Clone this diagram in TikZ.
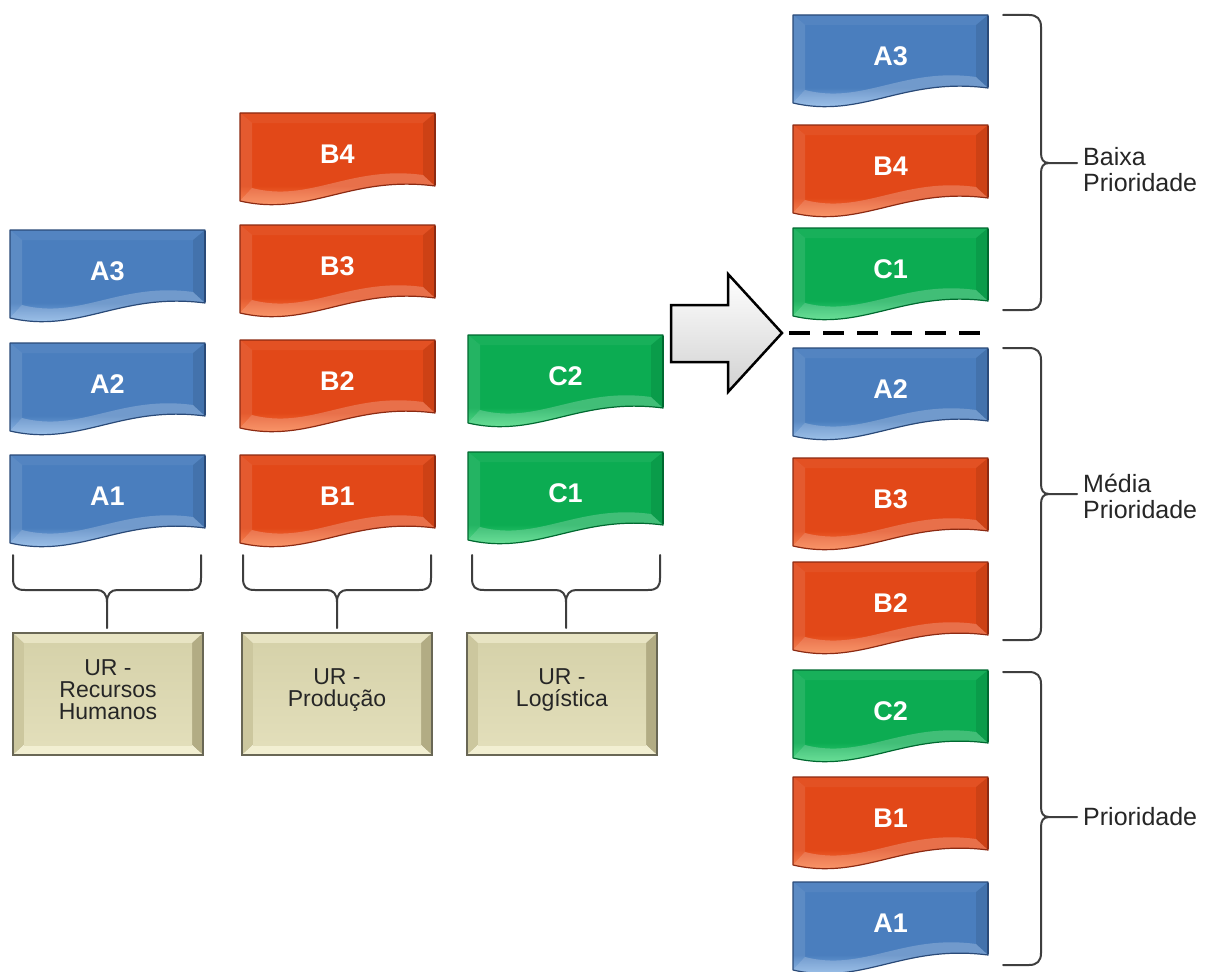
\documentclass[tikz,border=0pt]{standalone}
\usepackage{fontspec}
\setmainfont{Liberation Sans}
\usetikzlibrary{calc}

% block colours
\definecolor{bluebase}{RGB}{74,126,190}
\definecolor{bluelt}{RGB}{145,190,238}
\definecolor{bluedk}{RGB}{42,74,120}
\definecolor{redbase}{RGB}{226,72,24}
\definecolor{redlt}{RGB}{255,135,75}
\definecolor{reddk}{RGB}{140,42,18}
\definecolor{grnbase}{RGB}{12,172,82}
\definecolor{grnlt}{RGB}{80,228,135}
\definecolor{grndk}{RGB}{0,105,48}
% unit boxes
\definecolor{urface}{RGB}{214,210,170}
\definecolor{urface2}{RGB}{226,222,186}
\definecolor{urtop}{RGB}{232,228,195}
\definecolor{urleft}{RGB}{204,199,158}
\definecolor{urright}{RGB}{178,172,132}
\definecolor{urbot}{RGB}{242,239,210}
\definecolor{urline}{RGB}{105,103,85}
\definecolor{bracegray}{RGB}{62,62,62}

\pgfdeclareverticalshading{blueshade}{100bp}{color(0bp)=(bluelt); color(28bp)=(bluelt); color(40bp)=(bluebase); color(100bp)=(bluebase)}
\pgfdeclareverticalshading{redshade}{100bp}{color(0bp)=(redlt); color(28bp)=(redlt); color(40bp)=(redbase); color(100bp)=(redbase)}
\pgfdeclareverticalshading{grnshade}{100bp}{color(0bp)=(grnlt); color(28bp)=(grnlt); color(40bp)=(grnbase); color(100bp)=(grnbase)}

\tikzset{
  blocklabel/.style={text=white, font=\fontsize{27}{27}\selectfont\bfseries, inner sep=0pt},
  urlabel/.style={text=black!85, font=\fontsize{23}{22}\selectfont, align=center, inner sep=0pt},
  sidelabel/.style={text=black!85, font=\fontsize{25}{26}\selectfont, align=left, anchor=west, inner sep=0pt},
  bracepen/.style={draw=bracegray, line width=2pt, line join=round, line cap=round},
}

% wavy bevelled block: name, x, y (top left), shading, outline colour, label
\newcommand\waveblock[6]{%
\begin{scope}[shift={(#2,#3)}]
  \shade[shading=#4] (0,0) -- (195,0) -- (195,73) .. controls (110,62) and (70,104) .. (0,88) -- cycle;
  \fill[white,opacity=.10] (0,0) -- (12,10) -- (12,75) -- (0,88) -- cycle;
  \fill[black,opacity=.09] (195,0) -- (195,73) -- (183,62) -- (183,10) -- cycle;
  \fill[white,opacity=.05] (0,0) -- (195,0) -- (183,10) -- (12,10) -- cycle;
  \fill[white,opacity=.22] (195,73) .. controls (110,62) and (70,104) .. (0,88) -- (12,75) .. controls (70,90) and (110,52) .. (183,62) -- cycle;
  \draw[#5, line width=1.2pt, line join=round] (0,0) -- (195,0) -- (195,73) .. controls (110,62) and (70,104) .. (0,88) -- cycle;
  \draw[#5, line width=2.5pt] (195,1) -- (195,72);
  \node[blocklabel] (#1) at (97.5,41) {#6};
\end{scope}}

% bevelled unit box: name, x, y (top left), text
\newcommand\unitbox[4]{%
\begin{scope}[shift={(#2,#3)}]
  \fill[urtop] (0,0) -- (190,0) -- (179,10) -- (11,10) -- cycle;
  \fill[urleft] (0,0) -- (11,10) -- (11,112) -- (0,122) -- cycle;
  \fill[urright] (190,0) -- (190,122) -- (179,112) -- (179,10) -- cycle;
  \fill[urbot] (0,122) -- (11,112) -- (179,112) -- (190,122) -- cycle;
  \shade[top color=urface, bottom color=urface2] (11,10) rectangle (179,112);
  \draw[urline, line width=1.5pt] (0,0) rectangle (190,122);
  \node[urlabel] (#1) at (95,57) {#4};
\end{scope}}

% horizontal brace opening upwards: left x, right x, middle x
\newcommand\groupbrace[3]{%
  \draw[bracepen] (#1,555) -- (#1,578) .. controls (#1,587) and (#1+3,590) .. (#1+12,590)
    -- (#3-10,590) .. controls (#3-4,590) and (#3,594) .. (#3,602) -- (#3,628);
  \draw[bracepen] (#2,555) -- (#2,578) .. controls (#2,587) and (#2-3,590) .. (#2-12,590)
    -- (#3+10,590) .. controls (#3+4,590) and (#3,594) .. (#3,602);
}

% vertical brace opening leftwards: top y, bottom y, middle y
\newcommand\sidebrace[3]{%
  \draw[bracepen] (1003,#1) -- (1029,#1) .. controls (1037,#1) and (1041,#1+4) .. (1041,#1+12)
    -- (1041,#3-10) .. controls (1041,#3-4) and (1043,#3) .. (1049,#3) -- (1077,#3);
  \draw[bracepen] (1003,#2) -- (1029,#2) .. controls (1037,#2) and (1041,#2-4) .. (1041,#2-12)
    -- (1041,#3+10) .. controls (1041,#3+4) and (1043,#3) .. (1049,#3);
}

\begin{document}
\begin{tikzpicture}[x=1pt,y=-1pt]
  \useasboundingbox[fill=white] (0,0) rectangle (1214,971);

  % units and their demands
  \waveblock{lA3}{10}{230}{blueshade}{bluedk}{A3}
  \waveblock{lA2}{10}{343}{blueshade}{bluedk}{A2}
  \waveblock{lA1}{10}{455}{blueshade}{bluedk}{A1}

  \waveblock{lB4}{240}{113}{redshade}{reddk}{B4}
  \waveblock{lB3}{240}{225}{redshade}{reddk}{B3}
  \waveblock{lB2}{240}{340}{redshade}{reddk}{B2}
  \waveblock{lB1}{240}{455}{redshade}{reddk}{B1}

  \waveblock{lC2}{468}{335}{grnshade}{grndk}{C2}
  \waveblock{lC1}{468}{452}{grnshade}{grndk}{C1}

  \groupbrace{13}{201}{107}
  \groupbrace{243}{431}{337}
  \groupbrace{472}{660}{566}

  \unitbox{urA}{13}{633}{UR -\\Recursos\\Humanos}
  \unitbox{urB}{242}{633}{UR -\\Produção}
  \unitbox{urC}{467}{633}{UR -\\Logística}

  % transition arrow
  \draw[line width=2.5pt, line join=miter, top color=white, bottom color=black!18]
    (671,305) -- (728,305) -- (728,274) -- (782,333) -- (728,392) -- (728,362) -- (671,362) -- cycle;

  % consolidated ranking
  \waveblock{rA3}{793}{15}{blueshade}{bluedk}{A3}
  \waveblock{rB4}{793}{125}{redshade}{reddk}{B4}
  \waveblock{rC1}{793}{228}{grnshade}{grndk}{C1}

  \coordinate (cutL) at (789,333);
  \coordinate (cutR) at (986,333);
  \draw[line width=4pt, dash pattern=on 21pt off 13pt] (cutL) -- (cutR);

  \waveblock{rA2}{793}{348}{blueshade}{bluedk}{A2}
  \waveblock{rB3}{793}{458}{redshade}{reddk}{B3}
  \waveblock{rB2}{793}{562}{redshade}{reddk}{B2}
  \waveblock{rC2}{793}{670}{grnshade}{grndk}{C2}
  \waveblock{rB1}{793}{777}{redshade}{reddk}{B1}
  \waveblock{rA1}{793}{882}{blueshade}{bluedk}{A1}

  \sidebrace{15}{310}{163}
  \sidebrace{348}{640}{494}
  \sidebrace{672}{965}{817}

  \node[sidelabel] (baixa) at (1083,170) {Baixa\\Prioridade};
  \node[sidelabel] (media) at (1083,496) {Média\\Prioridade};
  \node[sidelabel] (alta) at (1083,817) {Prioridade};
\end{tikzpicture}
\end{document}
